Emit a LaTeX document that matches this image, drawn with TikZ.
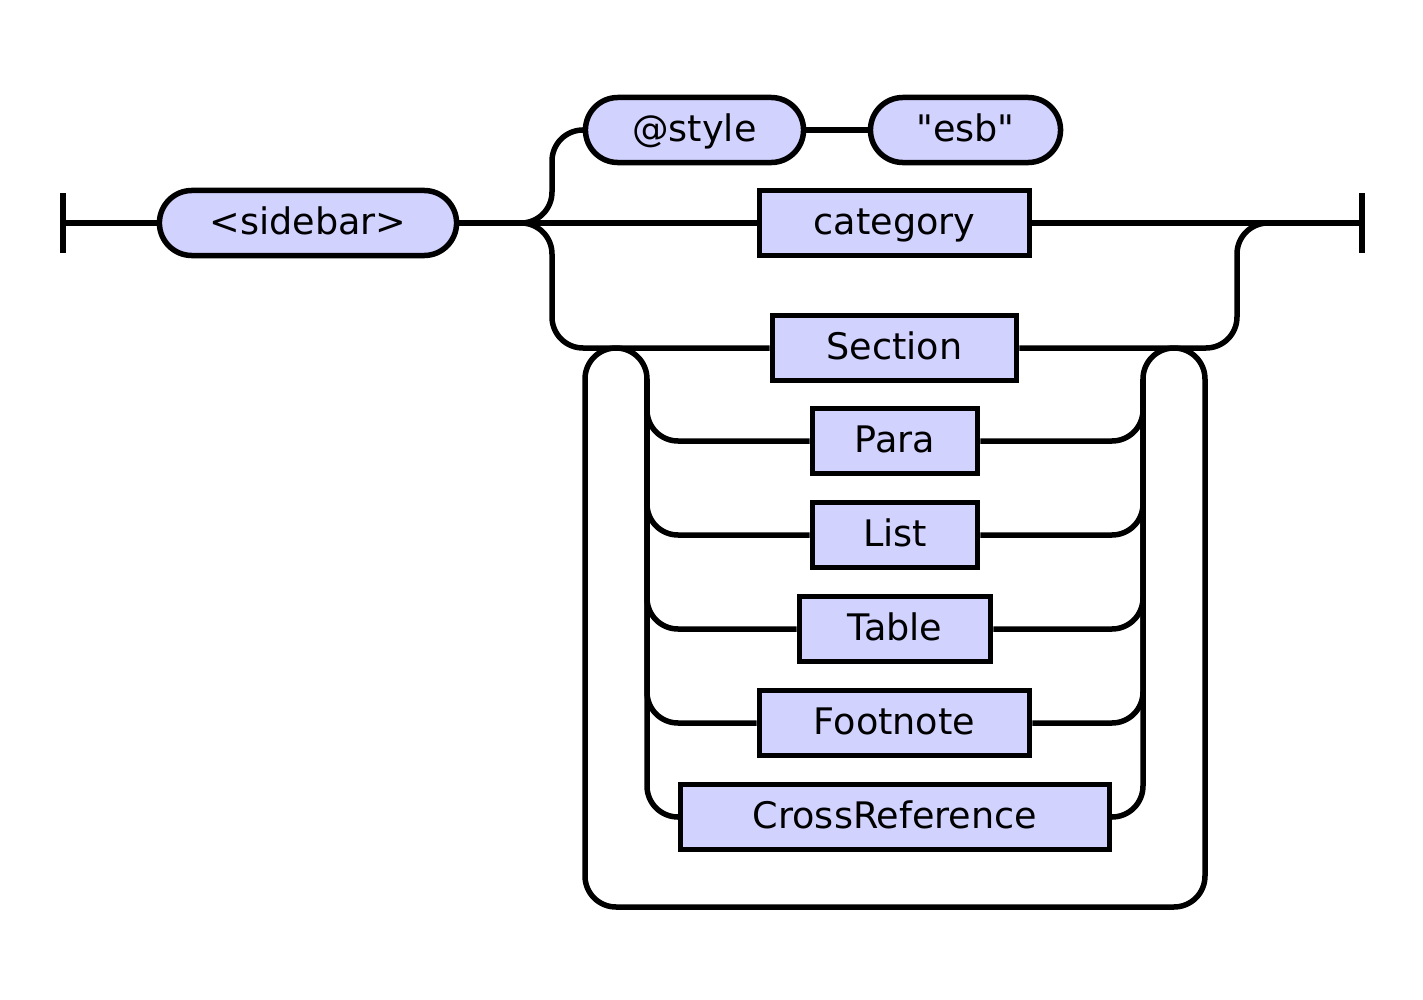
\documentclass[tikz,border=0pt]{standalone}
\usepackage{fontspec}
\setmainfont{DejaVu Sans}[Ligatures=TeXOff]
\definecolor{boxfill}{RGB}{210,210,255}
\tikzset{
  rail/.style={line width=0.055cm,rounded corners=0.31cm},
  plainbox/.style={draw,line width=0.055cm,fill=boxfill,minimum height=0.65cm,
    inner xsep=0pt,text height=9pt,text depth=2.2pt,font=\fontsize{10.4}{12}\selectfont},
  pill/.style={plainbox,rounded corners=0.325cm},
}
\begin{document}
\begin{tikzpicture}[x=0.01cm,y=-0.01cm]
    \useasboundingbox (0,0) rectangle (1423,1000);
    % ends and forks
    \coordinate (start) at (63,223);
    \coordinate (fork) at (520,223);
    \coordinate (join) at (1267,223);
    \coordinate (end) at (1362,223);
    \draw[line width=0.055cm] (63,193) -- (63,253);
    \draw[line width=0.055cm] (1362,193) -- (1362,253);
    % boxes
    \node[pill,minimum width=2.97cm] (sidebar) at (308,223) {<sidebar>};
    \node[pill,minimum width=2.18cm] (style) at (694.5,130) {@style};
    \node[pill,minimum width=1.90cm] (esb) at (965.5,130) {"esb"};
    \node[plainbox,minimum width=2.70cm] (category) at (894.5,223) {category};
    \node[plainbox,minimum width=2.44cm] (section) at (894.5,348) {Section};
    \node[plainbox,minimum width=1.65cm] (para) at (895,441) {Para};
    \node[plainbox,minimum width=1.65cm] (list) at (895,535) {List};
    \node[plainbox,minimum width=1.91cm] (table) at (895,629) {Table};
    \node[plainbox,minimum width=2.70cm] (footnote) at (894.5,723) {Footnote};
    \node[plainbox,minimum width=4.29cm] (crossref) at (895,817) {CrossReference};
    % main line
    \draw[rail] (start) -- (sidebar.west);
    \draw[rail] (sidebar.east) -- (fork) -- (category.west);
    \draw[rail] (category.east) -- (end);
    \draw[rail] (fork) -| (552,130) -- (style.west);
    \draw[rail] (style.east) -- (esb.west);
    \draw[rail] (fork) -| (552,348) -- (section.west);
    \draw[rail] (section.east) -| (1237,223) -- (join);
    % repeat loop
    \draw[rail] (647,400) -- (647,348) -- (585,348) -- (585,907)
        -- (1205,907) -- (1205,348) -- (1143,348) -- (1143,400);
    \foreach \n in {para,list,table,footnote,crossref} {
        \draw[rail] (647,379) |- (\n.west);
        \draw[rail] (\n.east) -| (1143,379);
      }
  \end{tikzpicture}
\end{document}
